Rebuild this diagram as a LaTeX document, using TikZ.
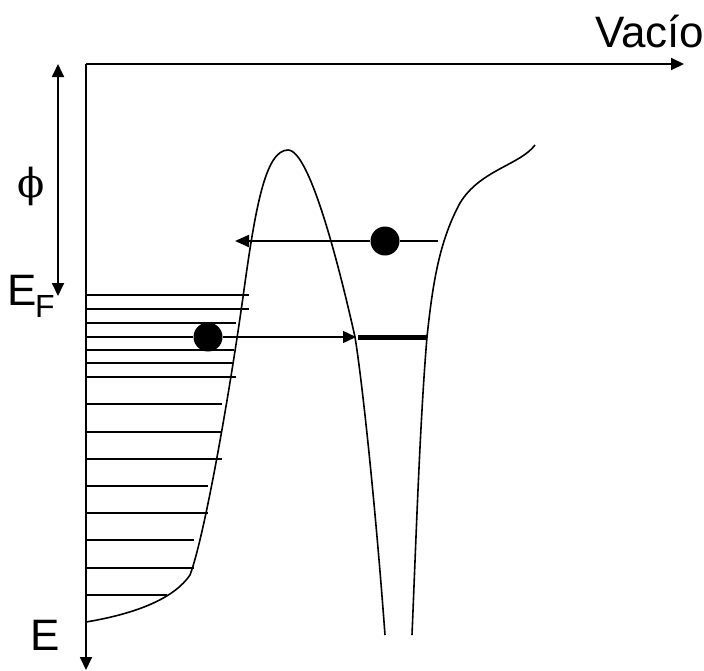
\documentclass[tikz,border=0pt]{standalone}
\usepackage{fontspec}
\setmainfont{Liberation Sans}
\newfontfamily\phifont{DejaVu Serif}
\usetikzlibrary{arrows.meta}
\begin{document}
\begin{tikzpicture}[x=1pt,y=-1pt,
  tipend/.style={-{Triangle[length=13pt,width=12pt]}},
  axisline/.style={line width=1.8pt},
  levelline/.style={line width=1.6pt},
  curveline/.style={line width=1.6pt},
  electron/.style={circle,fill=black,minimum size=29pt,inner sep=0pt},
  lbl/.style={anchor=base west,inner sep=0pt,font=\fontsize{44}{44}\selectfont}]
\useasboundingbox (0,0) rectangle (704,670);
% axes
\coordinate (O) at (86,64);
\coordinate (xend) at (684,64);
\coordinate (yend) at (86,670);
\draw[axisline,tipend] (O) -- (xend);
\draw[axisline,tipend] (O) -- (yend);
% work function arrow
\coordinate (phitop) at (58,64);
\coordinate (phibot) at (58,296);
\draw[axisline,{Triangle[length=13pt,width=12pt]}-{Triangle[length=13pt,width=12pt]}] (phitop) -- (phibot);
% labels
\node[lbl] (vac) at (595,47) {Vacío};
\node[lbl] (EF) at (7,305) {E};
\node[anchor=base west,inner sep=0pt,font=\fontsize{32}{32}\selectfont] (Fsub) at (35,317) {F};
\node[lbl] (E) at (30,650) {E};
\node[inner sep=0pt,font=\phifont\fontsize{40}{40}\selectfont] (phi) at (31,186) {ϕ};
% Fermi level and filled levels
\draw[line width=2.6pt] (86,295) -- (249,295);
\foreach \yy/\xx in {309/249,323/236,350/234,363/233,377/236,404/222,432/222,459/222,486/208,513/208,540/194,568/194,595/167}
  \draw[levelline] (86,\yy) -- (\xx,\yy);
% barrier and metal band edge
\coordinate (bandbot) at (86,622);
\coordinate (knee) at (190,575);
\coordinate (bandtop) at (243,297);
\coordinate (peak) at (288,150);
\coordinate (wellL) at (355,337);
\coordinate (wellLbot) at (385,635);
\draw[curveline] (bandbot) .. controls (140,613) and (175,597) .. (knee)
  .. controls (205,535) and (230,390) .. (bandtop)
  .. controls (255,210) and (265,150) .. (peak)
  .. controls (310,150) and (340,270) .. (wellL)
  .. controls (362,380) and (375,500) .. (wellLbot);
% right well wall
\coordinate (wellRbot) at (412,635);
\coordinate (wellR) at (427,337);
\coordinate (bend) at (460,203);
\coordinate (rtop) at (535,145);
\draw[curveline] (wellRbot) .. controls (416,540) and (420,420) .. (wellR)
  .. controls (433,280) and (440,240) .. (bend)
  .. controls (480,170) and (520,165) .. (rtop);
% electrons
\node[electron] (e1) at (385,241) {};
\node[electron] (e2) at (208,337) {};
\coordinate (upstart) at (438,241);
\coordinate (upend) at (235,241);
\draw[line width=2.2pt,{Triangle[length=14pt,width=12pt]}-] (upend) -- (e1);
\draw[line width=2.2pt] (e1) -- (upstart);
\draw[levelline] (86,337) -- (e2);
\coordinate (lowtip) at (356,337);
\draw[line width=1.4pt,tipend] (e2) -- (lowtip);
% bound state
\coordinate (bs1) at (358,337);
\coordinate (bs2) at (427,337);
\draw[line width=5pt] (bs1) -- (bs2);
\end{tikzpicture}
\end{document}
